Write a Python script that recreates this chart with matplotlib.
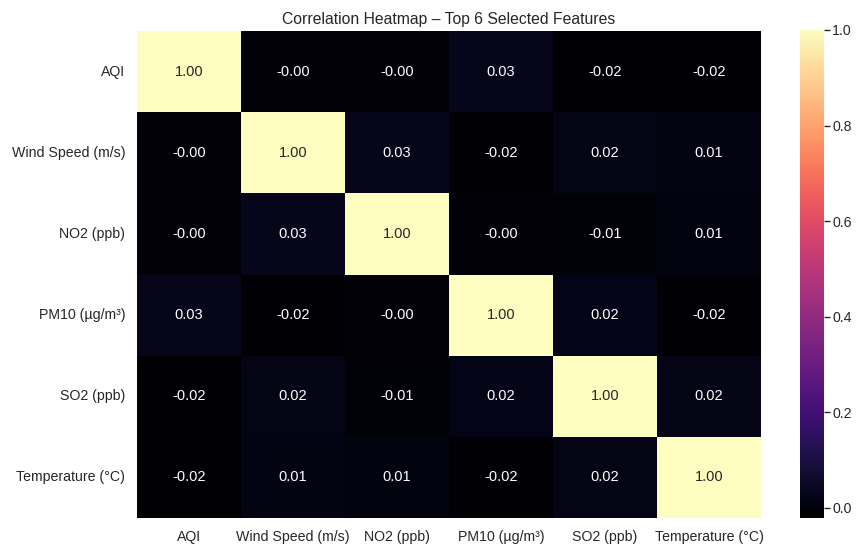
import matplotlib
matplotlib.use("Agg")
import matplotlib.pyplot as plt
import numpy as np
import pandas as pd
import seaborn as sns

sns.set_theme(style="white")
plt.rcParams['font.family'] = ['Liberation Sans', 'DejaVu Sans']

features = ["AQI", "Wind Speed (m/s)", "NO2 (ppb)", "PM10 (\u00b5g/m\u00b3)",
            "SO2 (ppb)", "Temperature (\u00b0C)"]

# correlation values, one row per feature
aqi   = [1.000, -0.003, -0.004, 0.030, -0.021, -0.019]
wind  = [-0.003, 1.000, 0.027, -0.017, 0.018, 0.012]
no2   = [-0.004, 0.027, 1.000, -0.004, -0.008, 0.010]
pm10  = [0.030, -0.017, -0.004, 1.000, 0.019, -0.016]
so2   = [-0.021, 0.018, -0.008, 0.019, 1.000, 0.017]
temp  = [-0.019, 0.012, 0.010, -0.016, 0.017, 1.000]

corr = pd.DataFrame([aqi, wind, no2, pm10, so2, temp], index=features, columns=features)

fig = plt.figure(figsize=(8.57, 5.44), dpi=100)
ax = fig.add_axes([137 / 857, 1 - 518 / 544, 624 / 857, 487 / 544])
cax = fig.add_axes([800 / 857, 1 - 518 / 544, 24 / 857, 488 / 544])

sns.heatmap(corr, annot=True, fmt=".2f", cmap="magma", ax=ax, cbar_ax=cax,
            annot_kws={"size": 10.5})
ax.set_title("Correlation Heatmap \u2013 Top 6 Selected Features", fontsize=11.3, pad=5)
ax.tick_params(axis="both", labelsize=10.2, length=0, pad=8.5)
plt.setp(ax.get_yticklabels(), rotation=0)
plt.setp(ax.get_xticklabels(), rotation=0)
cax.tick_params(labelsize=10.2, length=4, width=1, pad=2)

fig.savefig("out.png", dpi=100)
